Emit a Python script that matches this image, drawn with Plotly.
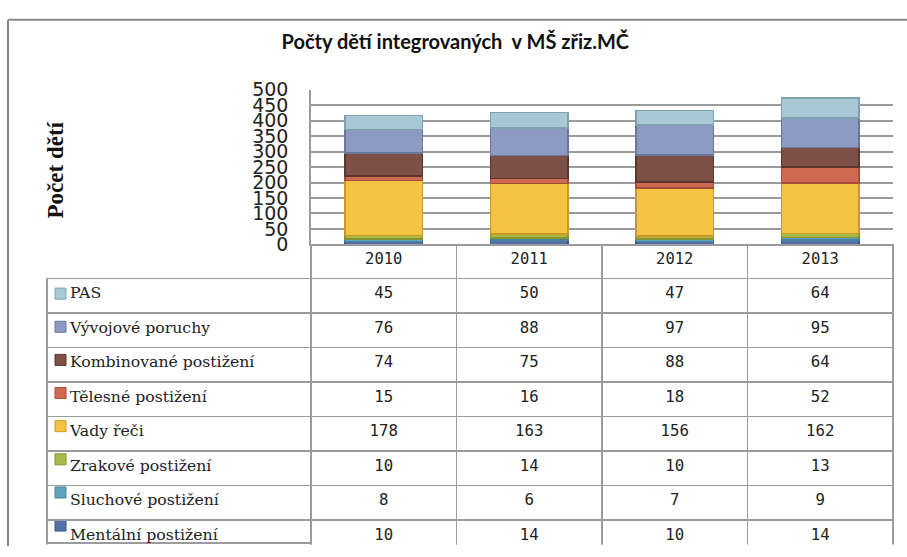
import plotly.graph_objects as go

W, H = 907, 557

years = ["2010", "2011", "2012", "2013"]

# series, bottom of the stack first
series_names = [
    "Mentální postižení",
    "Sluchové postižení",
    "Zrakové postižení",
    "Vady řeči",
    "Tělesné postižení",
    "Kombinované postižení",
    "Vývojové poruchy",
    "PAS",
]
mentalni = [10, 14, 10, 14]
sluchove = [8, 6, 7, 9]
zrakove = [10, 14, 10, 13]
vady_reci = [178, 163, 156, 162]
telesne = [15, 16, 18, 52]
kombinovane = [74, 75, 88, 64]
vyvojove = [76, 88, 97, 95]
pas = [45, 50, 47, 64]
series_values = [mentalni, sluchove, zrakove, vady_reci, telesne, kombinovane, vyvojove, pas]

colors = ["#5470A8", "#5FA3BE", "#A9B949", "#F5C343", "#CE6A52", "#7D5148", "#8D9BC2", "#A8C8D6"]
edge_colors = ["#3D5587", "#45849C", "#86932F", "#C99A22", "#A44D39", "#5C3730", "#6A779C", "#7FA2B2"]

title_text = "Počty dětí integrovaných  v MŠ zřiz.MČ"
y_title = "Počet dětí"
y_ticks = [0, 50, 100, 150, 200, 250, 300, 350, 400, 450, 500]

# pixel layout helpers
def px(x):
    return x / W

def py(y):
    return 1 - y / H

plot_left, plot_right, plot_top, plot_bottom = 311, 893, 82, 243
table_left, rows_bottom, table_bottom, header_h = 47, 553, 556, 34
key_col_w = plot_left - table_left
table_w = plot_right - table_left

fig = go.Figure()
for name, vals, c, ec in zip(series_names, series_values, colors, edge_colors):
    fig.add_trace(go.Bar(
        x=years, y=vals, name=name,
        marker=dict(color=c, line=dict(color=ec, width=1.5)),
        showlegend=False,
    ))

# data table (legend keys + values), rows top to bottom = stack top to bottom
NB = "\u00a0"
rows = list(range(len(series_names)))[::-1]
label_col = [NB * 3 + series_names[i] for i in rows]
value_cols = [[str(series_values[i][j]) for i in rows] for j in range(len(years))]

n_rows = len(series_names)
row_h = (rows_bottom - plot_bottom - header_h) / n_rows

grid = "#9b9b9b"
fig.add_trace(go.Table(
    domain=dict(x=[px(table_left), px(plot_right + 2)], y=[py(table_bottom), py(plot_bottom)]),
    columnwidth=[key_col_w] + [(plot_right - plot_left) / 4] * 4 + [2],
    header=dict(
        values=[""] + years + [""],
        height=header_h,
        align="center",
        fill=dict(color="rgba(0,0,0,0)"),
        line=dict(color=["rgba(0,0,0,0)"] + [grid] * 4 + ["rgba(0,0,0,0)"], width=1.5),
        font=dict(family="DejaVu Sans Mono", size=15.5, color="#222"),
    ),
    cells=dict(
        values=[label_col] + value_cols + [[""] * n_rows],
        height=row_h,
        align=["left", "center", "center", "center", "center", "center"],
        fill=dict(color=["rgba(0,0,0,0)", "white", "white", "white", "white", "rgba(0,0,0,0)"]),
        line=dict(color=[grid] * 5 + ["rgba(0,0,0,0)"], width=1.5),
        font=dict(family=["DejaVu Serif", "DejaVu Sans Mono", "DejaVu Sans Mono", "DejaVu Sans Mono",
                          "DejaVu Sans Mono", "DejaVu Sans Mono"],
                  size=15.7, color="#222"),
    ),
))

# legend keys in the first table column, placed by row category
fig.add_trace(go.Scatter(
    x=[13.5] * n_rows, y=series_names,
    xaxis="x2", yaxis="y2", mode="markers",
    marker=dict(symbol="square", size=11, color=colors, line=dict(color=edge_colors, width=1)),
    showlegend=False, hoverinfo="skip",
))

fig.update_layout(
    width=W, height=H,
    margin=dict(l=0, r=0, t=0, b=0),
    paper_bgcolor="white", plot_bgcolor="white",
    barmode="stack", bargap=0.47,
    xaxis=dict(
        domain=[px(plot_left), px(plot_right)],
        showticklabels=False, showgrid=False,
        showline=True, linecolor=grid, linewidth=1.5,
        ticks="",
    ),
    yaxis=dict(
        domain=[py(plot_bottom), py(plot_top)],
        range=[0, 500], tickvals=y_ticks,
        showgrid=True, gridcolor=grid, gridwidth=1.5,
        showline=True, linecolor=grid, linewidth=1.5,
        zeroline=False, ticks="",
        ticklabelstandoff=17,
        tickfont=dict(family="DejaVu Sans", size=19, color="#222"),
    ),
    xaxis2=dict(
        domain=[px(table_left), px(plot_right)], range=[0, table_w],
        anchor="y2", showline=True, linecolor=grid, linewidth=1.5,
        showgrid=False, zeroline=False, showticklabels=False, ticks="",
    ),
    yaxis2=dict(
        domain=[py(rows_bottom), py(plot_bottom + header_h)],
        type="category", categoryorder="array", categoryarray=series_names,
        range=[-0.5, n_rows - 0.5], visible=False, anchor="x2",
    ),
    title=dict(
        text=title_text, x=0.502, xanchor="center", y=py(42), yanchor="middle",
        font=dict(family="Lato", size=20, color="#111", weight="bold"),
    ),
    annotations=[dict(
        text=f"<b>{y_title}</b>", xref="paper", yref="paper",
        x=px(55), y=py(166), xanchor="center", yanchor="middle", textangle=-90, showarrow=False,
        font=dict(family="Liberation Serif", size=23, color="#111"),
    )],
    shapes=[
        dict(type="line", xref="paper", yref="paper", x0=px(8), x1=1, y0=py(9), y1=py(9),
             line=dict(color="#8a8a8a", width=2)),
        dict(type="line", xref="paper", yref="paper", x0=px(8), x1=px(8), y0=py(9), y1=0,
             line=dict(color="#8a8a8a", width=2)),
    ],
)

fig.write_html(
    "out.html",
    config={"displayModeBar": False},
    post_script="document.body.style.margin='0';document.body.style.overflow='hidden';",
)
